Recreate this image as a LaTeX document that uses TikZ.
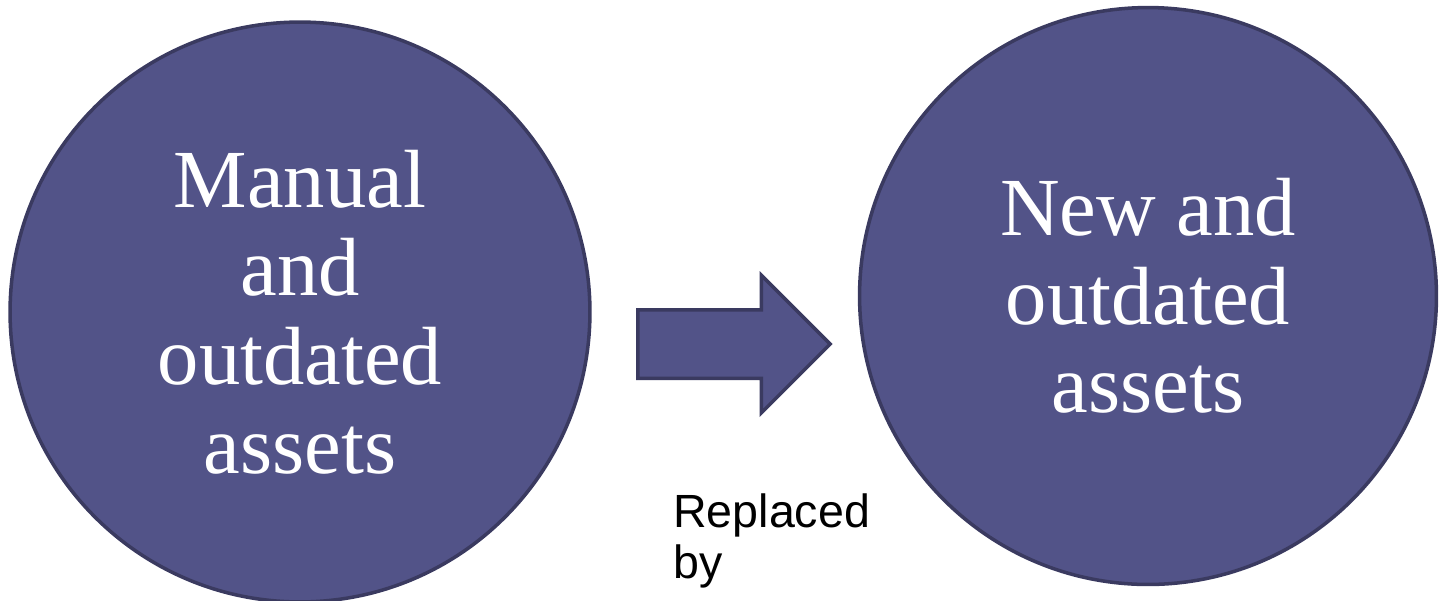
\documentclass[tikz,border=0pt]{standalone}
\usepackage{fontspec}
\setmainfont{Liberation Serif}
\newfontfamily\labelfont{Liberation Sans}
\usetikzlibrary{shapes.arrows,positioning}
\definecolor{assetfill}{RGB}{82,83,136}
\definecolor{assetline}{RGB}{58,58,96}
\begin{document}
\begin{tikzpicture}[x=0.02cm, y=-0.02cm,
    asset/.style={circle, draw=assetline, line width=2pt, fill=assetfill,
              minimum size=11.6cm, inner sep=0pt, align=center, text=white,
              font=\fontsize{47}{50.5}\selectfont},
    swap/.style={single arrow, draw=assetline, line width=2pt, fill=assetfill,
              minimum height=3.85cm, inner sep=0pt, text height=0.65cm, text depth=0.65cm,
              single arrow head extend=0.69cm},
    note/.style={align=left, anchor=north west, inner sep=0pt,
              font=\labelfont\fontsize{26.5}{29}\selectfont}]
\useasboundingbox (0,0) rectangle (1439,600);
\node[asset] (old) at (300,312) {Manual\\and\\outdated\\assets};
\node[asset, minimum size=11.54cm] (new) at (1148,296) {New and\\outdated\\assets};
\node[swap, anchor=tail] (arrow) at (636,344) {};
\node[note] (label) at (673,493) {Replaced\\by};
\end{tikzpicture}
\end{document}
